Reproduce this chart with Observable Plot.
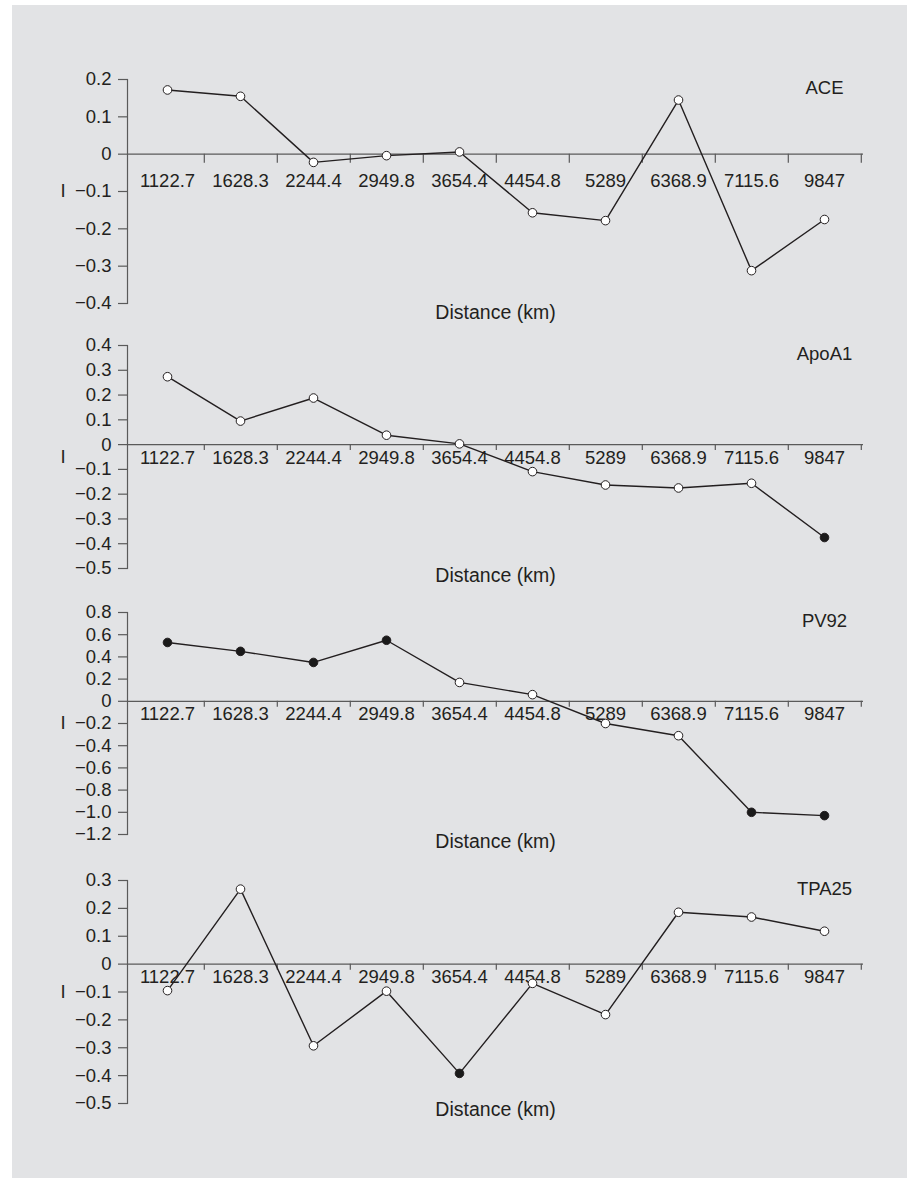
<!DOCTYPE html>
<html>
<head>
<meta charset="utf-8">
<script src="https://cdn.jsdelivr.net/npm/d3@7"></script>
<script src="https://cdn.jsdelivr.net/npm/@observablehq/plot@0.6"></script>
<style>
  html, body { margin: 0; padding: 0; background: #ffffff; }
  #panel {
    position: absolute; left: 12px; top: 5px; width: 895px; height: 1173px;
    background: #e2e3e5; padding-top: 54px; box-sizing: border-box;
  }
  #panel svg { display: block; }
</style>
</head>
<body>
<div id="panel"></div>
<script>
// ---- Data ----
const categories = ["1122.7", "1628.3", "2244.4", "2949.8", "3654.4", "4454.8", "5289", "6368.9", "7115.6", "9847"];

const seriesNames = ["ACE", "ApoA1", "PV92", "TPA25"];

const aceValues   = [0.172, 0.155, -0.022, -0.004, 0.006, -0.157, -0.178, 0.145, -0.312, -0.175];
const aceFilled   = [0, 0, 0, 0, 0, 0, 0, 0, 0, 0];
const aceTicks    = [0.2, 0.1, 0, -0.1, -0.2, -0.3, -0.4];

const apoa1Values = [0.274, 0.095, 0.188, 0.038, 0.003, -0.109, -0.163, -0.175, -0.156, -0.375];
const apoa1Filled = [0, 0, 0, 0, 0, 0, 0, 0, 0, 1];
const apoa1Ticks  = [0.4, 0.3, 0.2, 0.1, 0, -0.1, -0.2, -0.3, -0.4, -0.5];

const pv92Values  = [0.53, 0.45, 0.35, 0.55, 0.17, 0.06, -0.20, -0.31, -1.00, -1.03];
const pv92Filled  = [1, 1, 1, 1, 0, 0, 0, 0, 1, 1];
const pv92Ticks   = [0.8, 0.6, 0.4, 0.2, 0, -0.2, -0.4, -0.6, -0.8, -1.0, -1.2];

const tpa25Values = [-0.095, 0.269, -0.293, -0.097, -0.392, -0.069, -0.181, 0.186, 0.169, 0.118];
const tpa25Filled = [0, 0, 0, 0, 1, 0, 0, 0, 0, 0];
const tpa25Ticks  = [0.3, 0.2, 0.1, 0, -0.1, -0.2, -0.3, -0.4, -0.5];

const xLabel = "Distance (km)";
const yLabel = "I";

// ---- Layout / style (not data) ----
const layout = [
  {marginTop: 20, plotHeight: 224, marginBottom: 22, labelDy: 26.5, tickLen: 9, distDy: 9},
  {marginTop: 20, plotHeight: 223, marginBottom: 24, labelDy: 13, tickLen: 6, distDy: 7.5},
  {marginTop: 20, plotHeight: 222, marginBottom: 26, labelDy: 13, tickLen: 6, distDy: 7.5},
  {marginTop: 20, plotHeight: 223, marginBottom: 30, labelDy: 13, tickLen: 6, distDy: 6.5}
];
const W = 895, ML = 115, MR = 44;
const ink = "#231f20", axisInk = "#5a5a5a";

const panels = [
  [aceValues, aceFilled, aceTicks],
  [apoa1Values, apoa1Filled, apoa1Ticks],
  [pv92Values, pv92Filled, pv92Ticks],
  [tpa25Values, tpa25Filled, tpa25Ticks]
];

const fmt = v => v === 0 ? "0" : (v < 0 ? "\u2212" : "") + Math.abs(v).toFixed(1);
const step = (W - ML - MR) / categories.length;

const host = document.getElementById("panel");

panels.forEach(([values, filled, ticks], k) => {
  const L = layout[k];
  const rows = categories.map((c, i) => ({c, v: values[i], f: filled[i]}));
  const chart = Plot.plot({
    width: W,
    height: L.marginTop + L.plotHeight + L.marginBottom,
    marginLeft: ML, marginRight: MR, marginTop: L.marginTop, marginBottom: L.marginBottom,
    style: {background: "transparent", fontFamily: "'Liberation Sans', Arial, sans-serif", fontSize: "18.5px", color: ink},
    x: {type: "point", domain: categories, padding: 0.5, axis: null},
    y: {domain: d3.extent(ticks), axis: null},
    color: {type: "identity"},
    marks: [
      Plot.axisY({ticks, tickSize: 9, tickPadding: 7, tickFormat: fmt, stroke: axisInk, strokeWidth: 1.2, fill: ink, label: null, fontSize: 18.5}),
      Plot.frame({anchor: "left", stroke: axisInk, strokeWidth: 1.2}),
      Plot.ruleY([0], {stroke: axisInk, strokeWidth: 1.3}),
      Plot.ruleX(categories, {x: d => d, y1: () => 0, y2: () => 0, insetBottom: -L.tickLen, dx: step / 2, stroke: axisInk, strokeWidth: 1.2}),
      Plot.text(categories, {x: d => d, y: () => 0, dy: L.labelDy, text: d => d, fill: ink, lineAnchor: "middle", fontSize: 18.5}),
      Plot.line(rows, {x: "c", y: "v", stroke: ink, strokeWidth: 1.4}),
      Plot.dot(rows, {x: "c", y: "v", r: 4.3, fill: d => d.f ? "#1a1a1a" : "#ffffff", stroke: ink, strokeWidth: 1}),
      Plot.text([seriesNames[k]], {x: () => categories[categories.length - 1], frameAnchor: "top", dy: 9, text: d => d, fill: ink, lineAnchor: "middle", fontSize: 18.5}),
      Plot.text([xLabel], {frameAnchor: "bottom", dy: L.distDy, text: d => d, fill: ink, lineAnchor: "middle", fontSize: 19.5}),
      Plot.text([yLabel], {frameAnchor: "left", dx: -67, text: d => d, fill: ink, lineAnchor: "middle", fontSize: 18.5})
    ]
  });
  host.appendChild(chart);
});
</script>
</body>
</html>
